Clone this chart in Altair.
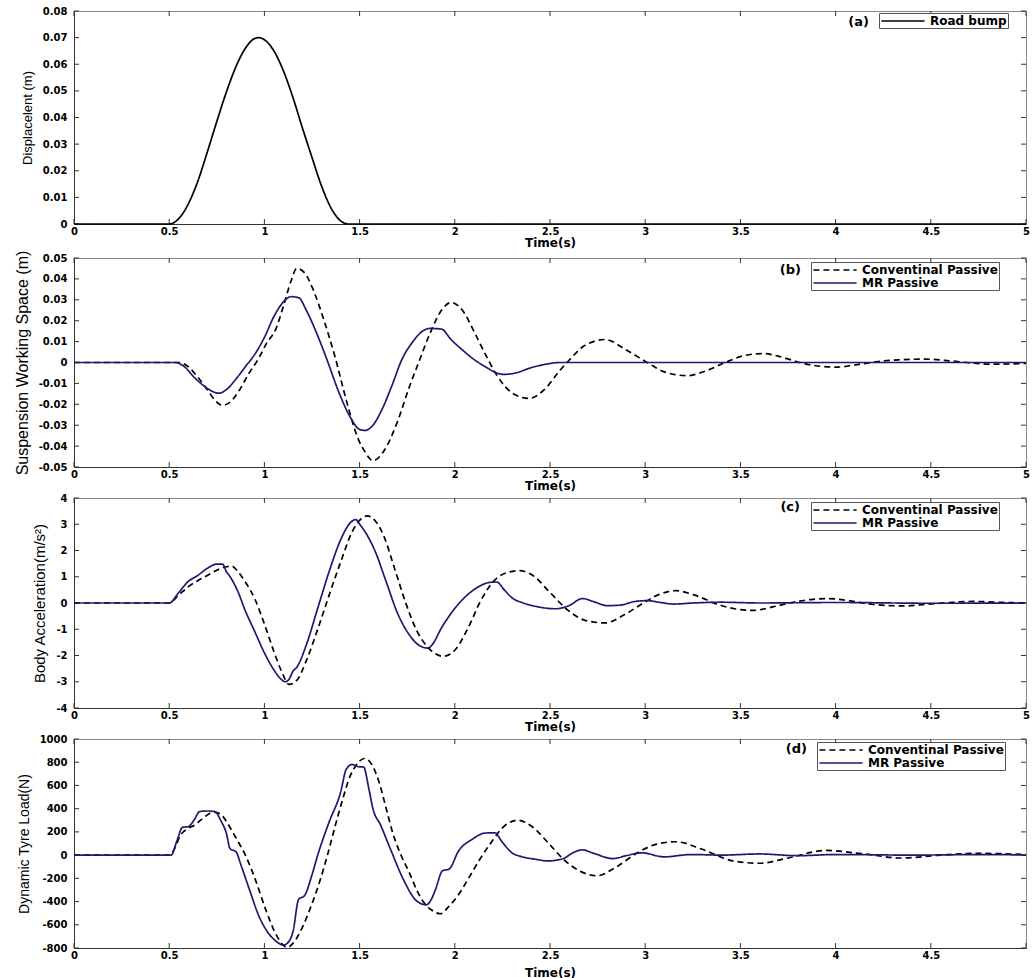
import altair as alt
import pandas as pd

# ---------------- data ----------------
X_TICKS = [0, 0.5, 1, 1.5, 2, 2.5, 3, 3.5, 4, 4.5, 5]
X_LABELS_D = [0, 0.5, 1, 1.5, 2, 2.5, 3, 3.5, 4, 4.5]

# (a) road bump
bump_t = [0, 0.5, 0.55, 0.6, 0.65, 0.7, 0.75, 0.8, 0.85, 0.9, 0.95, 0.97, 1.0, 1.05,
          1.1, 1.15, 1.2, 1.25, 1.3, 1.35, 1.4, 1.44, 5]
bump_v = [0, 0, 0.002, 0.0075, 0.016, 0.027, 0.0385, 0.0495, 0.059, 0.066, 0.0697, 0.07,
          0.0692, 0.065, 0.0575, 0.0475, 0.036, 0.025, 0.0143, 0.006, 0.0012, 0, 0]

# (b) suspension working space
sws_conv_t = [0, 0.55, 0.6, 0.65, 0.7, 0.74, 0.78, 0.82, 0.87, 0.92, 0.97, 1.01, 1.06, 1.10,
              1.14, 1.17, 1.21, 1.26, 1.31, 1.37, 1.43, 1.49, 1.53, 1.57, 1.63, 1.7, 1.76,
              1.81, 1.87, 1.93, 1.98, 2.04, 2.1, 2.16, 2.22, 2.3, 2.39, 2.47, 2.55, 2.6,
              2.68, 2.79, 2.9, 3.02, 3.1, 3.22, 3.32, 3.42, 3.52, 3.62, 3.72, 3.82, 3.92,
              4.01, 4.1, 4.2, 4.33, 4.47, 4.6, 4.72, 4.85, 5.0]
sws_conv_v = [0, 0, -0.002, -0.007, -0.013, -0.018, -0.0205, -0.019, -0.013, -0.005, 0.002,
              0.009, 0.016, 0.027, 0.039, 0.045, 0.043, 0.034, 0.021, 0.003, -0.018, -0.036,
              -0.043, -0.047, -0.042, -0.028, -0.012, 0.0, 0.014, 0.025, 0.0287, 0.025,
              0.015, 0.004, -0.006, -0.0145, -0.0172, -0.013, -0.004, 0.001, 0.008, 0.011,
              0.006, -0.0005, -0.0045, -0.0063, -0.004, 0.0, 0.0033, 0.0043, 0.0025,
              -0.0002, -0.0018, -0.0022, -0.0012, 0.0002, 0.0013, 0.0016, 0.0008, -0.0003,
              -0.0008, -0.0004]
sws_mr_t = [0, 0.53, 0.58, 0.63, 0.68, 0.72, 0.76, 0.8, 0.85, 0.9, 0.95, 1.0, 1.05, 1.1,
            1.14, 1.18, 1.22, 1.27, 1.33, 1.39, 1.45, 1.5, 1.53, 1.57, 1.62, 1.67, 1.72,
            1.78, 1.83, 1.87, 1.93, 1.98, 2.04, 2.1, 2.16, 2.22, 2.26, 2.32, 2.4, 2.48,
            2.55, 5]
sws_mr_v = [0, 0, -0.002, -0.007, -0.011, -0.0135, -0.0147, -0.013, -0.008, -0.002, 0.004,
            0.012, 0.022, 0.029, 0.0315, 0.031, 0.025, 0.015, 0.001, -0.014, -0.026, -0.032,
            -0.0325, -0.030, -0.022, -0.011, 0.001, 0.010, 0.015, 0.0163, 0.016, 0.011,
            0.006, 0.0015, -0.002, -0.005, -0.0057, -0.005, -0.0025, -0.0008, 0, 0]

# (c) body acceleration
acc_conv_t = [0, 0.5, 0.55, 0.6, 0.65, 0.7, 0.75, 0.8, 0.83, 0.86, 0.9, 0.95, 1.0, 1.05,
              1.09, 1.13, 1.17, 1.22, 1.28, 1.34, 1.4, 1.46, 1.5, 1.54, 1.58, 1.63, 1.68,
              1.74, 1.8, 1.86, 1.94, 2.0, 2.07, 2.13, 2.2, 2.27, 2.34, 2.41, 2.5, 2.59,
              2.68, 2.79, 2.89, 2.99, 3.07, 3.16, 3.26, 3.38, 3.47, 3.57, 3.67, 3.77, 3.87,
              3.96, 4.06, 4.16, 4.26, 4.36, 4.48, 4.6, 4.72, 4.85, 5.0]
acc_conv_v = [0, 0, 0.3, 0.62, 0.85, 1.05, 1.25, 1.38, 1.4, 1.2, 0.8, 0.15, -0.8, -1.85,
              -2.6, -3.1, -2.95, -2.2, -1.0, 0.3, 1.55, 2.7, 3.15, 3.32, 3.15, 2.5, 1.4,
              0.05, -1.05, -1.7, -2.03, -1.8, -0.95, 0.0, 0.8, 1.15, 1.23, 1.05, 0.4, -0.25,
              -0.65, -0.76, -0.45, 0.0, 0.32, 0.47, 0.3, -0.05, -0.22, -0.28, -0.15, 0.02,
              0.13, 0.17, 0.1, -0.02, -0.09, -0.11, -0.05, 0.02, 0.06, 0.03, 0.0]
acc_mr_t = [0, 0.5, 0.55, 0.6, 0.65, 0.7, 0.75, 0.78, 0.8, 0.82, 0.86, 0.9, 0.95, 1.0,
            1.05, 1.09, 1.11, 1.13, 1.15, 1.17, 1.22, 1.28, 1.34, 1.4, 1.45, 1.48, 1.5,
            1.53, 1.58, 1.64, 1.7, 1.76, 1.81, 1.86, 1.88, 1.93, 1.99, 2.05, 2.12, 2.18,
            2.22, 2.26, 2.3, 2.36, 2.44, 2.53, 2.6, 2.67, 2.73, 2.8, 2.87, 2.94, 3.01,
            3.08, 3.15, 3.25, 3.4, 3.6, 4.0, 4.5, 5]
acc_mr_v = [0, 0, 0.4, 0.82, 1.05, 1.32, 1.48, 1.48, 1.2, 1.0, 0.45, -0.3, -1.1, -1.9,
            -2.55, -2.92, -3.0, -2.9, -2.6, -2.45, -1.6, -0.2, 1.2, 2.4, 3.05, 3.18, 3.0,
            2.7, 2.0, 0.8, -0.4, -1.2, -1.6, -1.72, -1.6, -0.95, -0.3, 0.2, 0.6, 0.78,
            0.8, 0.5, 0.2, 0.0, -0.15, -0.22, -0.1, 0.17, 0.05, -0.1, -0.08, 0.05, 0.09,
            0.02, -0.04, 0.0, 0.03, 0.0, 0.02, -0.01, 0]

# (d) dynamic tyre load
tyre_conv_t = [0, 0.5, 0.53, 0.557, 0.6, 0.63, 0.68, 0.73, 0.77, 0.8, 0.85, 0.9, 0.95, 1.01,
               1.06, 1.12, 1.15, 1.2, 1.24, 1.29, 1.33, 1.37, 1.41, 1.45, 1.48, 1.526, 1.56,
               1.6, 1.64, 1.674, 1.72, 1.761, 1.8, 1.83, 1.88, 1.924, 1.97, 2.02, 2.07,
               2.13, 2.19, 2.26, 2.33, 2.41, 2.49, 2.58, 2.66, 2.746, 2.85, 2.96, 3.06,
               3.16, 3.3, 3.46, 3.6, 3.75, 3.95, 4.15, 4.35, 4.55, 4.75, 5]
tyre_conv_v = [0, 0, 60, 165, 230, 255, 320, 370, 355, 290, 150, 0, -200, -483, -680, -795,
               -760, -620, -462, -230, -7, 240, 475, 680, 770, 832, 790, 640, 400, 192, -10,
               -150, -300, -391, -475, -505, -440, -340, -206, -40, 107, 250, 300, 240, 107,
               -50, -140, -178, -100, 21, 95, 115, 50, -50, -70, -25, 40, 10, -25, 0, 15, 5]
tyre_mr_t = [0, 0.51, 0.54, 0.57, 0.6, 0.63, 0.66, 0.7, 0.74, 0.77, 0.8, 0.82, 0.85, 0.88,
             0.92, 0.97, 1.02, 1.06, 1.1, 1.13, 1.15, 1.18, 1.21, 1.25, 1.28, 1.34, 1.4,
             1.43, 1.46, 1.5, 1.52, 1.55, 1.57, 1.61, 1.66, 1.73, 1.8, 1.85, 1.88, 1.9,
             1.935, 1.97, 2.02, 2.09, 2.16, 2.21, 2.25, 2.3, 2.35, 2.42, 2.49, 2.57, 2.62,
             2.67, 2.73, 2.83, 2.9, 2.98, 3.1, 3.24, 3.4, 3.6, 3.8, 4.0, 4.4, 4.8, 5]
tyre_mr_v = [0, 0, 120, 240, 245, 300, 375, 380, 375, 300, 190, 55, 30, -100, -290, -520,
             -670, -740, -775, -740, -660, -380, -350, -170, 0, 285, 540, 740, 780, 760, 760,
             560, 400, 260, 60, -210, -395, -428, -370, -290, -135, -120, 36, 135, 190, 192,
             110, 20, -13, -35, -50, -30, 20, 45, 15, -30, -5, 20, -15, 5, 0, 10, -5, 5, 0,
             5, 0]

CONV = "Conventinal Passive"
MR = "MR Passive"
NAVY = "#1b1b6e"

LABEL_FONT = "DejaVu Sans"
NARROW = "Liberation Sans Narrow, Liberation Sans"

W = 952
FIX_MINUS = "replace(datum.label, '\u2212', '-')"


def panel(series, colors, dashes, ydom, yticks, yfmt, ytitle, ytitle_size, tag, tag_x,
          tag_y, leg_x, leg_y, h, xlabels, xtitle_pad):
    rows = []
    for name, ts, vs in series:
        for t, v in zip(ts, vs):
            rows.append({"t": t, "v": v, "series": name})
    df = pd.DataFrame(rows)
    names = [s[0] for s in series]

    legend = alt.Legend(title=None, orient="none", legendX=leg_x, legendY=leg_y,
                        symbolType="M-3.6,0H3.6", symbolSize=144, symbolStrokeWidth=1.5,
                        symbolOffset=16, labelOffset=20,
                        labelFont=LABEL_FONT, labelFontWeight="bold", labelFontSize=12,
                        labelColor="black", padding=1, rowPadding=-3,
                        strokeColor="#555555", fillColor="white", labelLimit=400)

    xs = alt.Scale(domain=[0, 5], nice=False, zero=False)
    ys = alt.Scale(domain=ydom, nice=False, zero=False)
    xaxis = alt.Axis(values=xlabels, format="~g", title="Time(s)", labelExpr=FIX_MINUS,
                     titlePadding=xtitle_pad)
    yaxis = alt.Axis(values=yticks, format=yfmt, title=ytitle, titleFontSize=ytitle_size,
                     labelExpr=FIX_MINUS)

    def X(field):
        return alt.X(field, scale=xs, axis=xaxis)

    def Y(field):
        return alt.Y(field, scale=ys, axis=yaxis)

    lines = alt.Chart(df).mark_line(strokeWidth=1.7, interpolate="monotone").encode(
        x=X("t:Q"),
        y=Y("v:Q"),
        color=alt.Color("series:N", scale=alt.Scale(domain=names, range=colors), legend=legend),
        strokeDash=alt.StrokeDash("series:N", scale=alt.Scale(domain=names, range=dashes),
                                  legend=legend),
    )

    xt = pd.DataFrame({"t": X_TICKS})
    yt = pd.DataFrame({"v": yticks})
    tick_style = dict(color="#333333", strokeWidth=1)
    xb = alt.Chart(xt).mark_rule(**tick_style).encode(
        x=X("t:Q"), y=alt.value(h), y2=alt.value(h - 5))
    xtop = alt.Chart(xt).mark_rule(**tick_style).encode(
        x=X("t:Q"), y=alt.value(0), y2=alt.value(5))
    yl = alt.Chart(yt).mark_rule(**tick_style).encode(
        y=Y("v:Q"), x=alt.value(0), x2=alt.value(5))
    yr = alt.Chart(yt).mark_rule(**tick_style).encode(
        y=Y("v:Q"), x=alt.value(W - 5), x2=alt.value(W))

    tag_mark = alt.Chart(pd.DataFrame({"tag": [tag]})).mark_text(
        font=LABEL_FONT, fontSize=13, fontWeight="bold", color="black",
        align="right", baseline="middle"
    ).encode(text="tag:N", x=alt.value(tag_x), y=alt.value(tag_y))

    return alt.layer(xb, xtop, yl, yr, lines, tag_mark).properties(
        width=W, height=h,
    ).resolve_scale(color="independent", strokeDash="independent")


pa = panel([("Road bump", bump_t, bump_v)], ["black"], [[1, 0]],
           [0, 0.08], [0, 0.01, 0.02, 0.03, 0.04, 0.05, 0.06, 0.07, 0.08], "~g",
           "Displacelent (m)", 13, "(a)", 795, 11, 805, 2, 213, X_TICKS, 1)
pb = panel([(CONV, sws_conv_t, sws_conv_v), (MR, sws_mr_t, sws_mr_v)], ["black", NAVY],
           [[6, 4], [1, 0]], [-0.05, 0.05],
           [-0.05, -0.04, -0.03, -0.02, -0.01, 0, 0.01, 0.02, 0.03, 0.04, 0.05], "~g",
           "Suspension Working Space (m)", 16, "(b)", 727, 12, 737, 4, 209, X_TICKS, 1)
pc = panel([(CONV, acc_conv_t, acc_conv_v), (MR, acc_mr_t, acc_mr_v)], ["black", NAVY],
           [[6, 4], [1, 0]], [-4, 4], [-4, -3, -2, -1, 0, 1, 2, 3, 4], "~g",
           "Body Acceleration(m/s\u00b2)", 15, "(c)", 726, 9, 737, 4, 210, X_TICKS, 1)
pd_ = panel([(CONV, tyre_conv_t, tyre_conv_v), (MR, tyre_mr_t, tyre_mr_v)], ["black", NAVY],
            [[6, 4], [1, 0]], [-800, 1000],
            [-800, -600, -400, -200, 0, 200, 400, 600, 800, 1000], "d",
            "Dynamic Tyre Load(N)", 14, "(d)", 733, 10, 743, 3, 209, X_LABELS_D, 7)

chart = alt.vconcat(pa, pb, pc, pd_, spacing=0).resolve_scale(
    color="independent", strokeDash="independent"
).properties(
    padding={"left": 13, "top": 5, "right": 2, "bottom": 2}
).configure(background="white").configure_view(
    stroke="#888888", strokeWidth=1
).configure_axis(
    labelFont=LABEL_FONT, labelFontWeight="bold", labelFontSize=10, labelColor="black",
    labelFlush=False, ticks=False, labelPadding=3, domainColor="#333333",
    titleFont=NARROW, titleFontWeight="normal", titleColor="black", grid=False
).configure_axisX(
    titleFont=LABEL_FONT, titleFontWeight="bold", titleFontSize=12,
    labelPadding=2
).configure_axisY(
    titlePadding=8, labelPadding=7
)

chart.save("out.html", embed_options={"renderer": "svg", "actions": False})
